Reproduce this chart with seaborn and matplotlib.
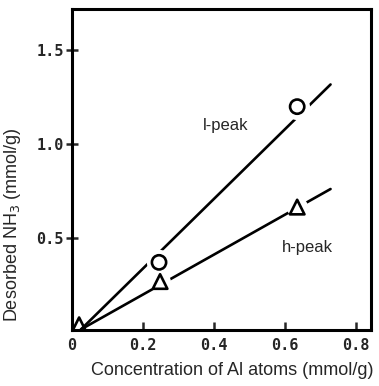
import matplotlib
matplotlib.use("Agg")
import matplotlib.pyplot as plt
import seaborn as sns
import pandas as pd

# Measured points: Al concentration (mmol/g) vs desorbed NH3 (mmol/g)
al_conc_l = [0.245, 0.634]
nh3_l_peak = [0.372, 1.200]
al_conc_h = [0.02, 0.248, 0.634]
nh3_h_peak = [0.04, 0.270, 0.666]

# Straight-line fits drawn through each peak series (endpoints)
fit_x_l = [0.025, 0.728]
fit_y_l = [0.015, 1.318]
fit_x_h = [0.025, 0.728]
fit_y_h = [0.015, 0.762]

x_ticks = [0, 0.2, 0.4, 0.6, 0.8]
x_tick_labels = ["0", "0.2", "0.4", "0.6", "0.8"]
y_ticks = [0.5, 1.0, 1.5]
y_tick_labels = ["0.5", "1.0", "1.5"]

sns.set_style("ticks")
plt.rcParams["font.family"] = ["Liberation Sans", "DejaVu Sans"]

fig = plt.figure(figsize=(3.79, 3.86), dpi=100)
ax = fig.add_axes([0.19, 0.145, 0.789, 0.832])

lines = pd.concat([
    pd.DataFrame({"x": fit_x_l, "y": fit_y_l, "peak": "l"}),
    pd.DataFrame({"x": fit_x_h, "y": fit_y_h, "peak": "h"}),
])
sns.lineplot(data=lines, x="x", y="y", units="peak", estimator=None,
             color="black", linewidth=1.9, ax=ax, zorder=2, legend=False)

# white discs leave a small gap in the fit lines around each marker
sns.scatterplot(x=al_conc_l, y=nh3_l_peak, s=330, color="white",
                linewidth=0, ax=ax, zorder=3)
sns.scatterplot(x=al_conc_h[1:], y=nh3_h_peak[1:], s=230, color="white",
                linewidth=0, ax=ax, zorder=3)

sns.scatterplot(x=al_conc_l, y=nh3_l_peak, s=105, marker="o",
                facecolor="none", edgecolor="black", linewidth=1.9,
                ax=ax, zorder=4)
sns.scatterplot(x=al_conc_h, y=nh3_h_peak, s=110, marker="^",
                facecolor="none", edgecolor="black", linewidth=1.9,
                ax=ax, zorder=4)

ax.text(0.369, 1.10, "l-peak", fontsize=12, va="center", ha="left")
ax.text(0.59, 0.45, "h-peak", fontsize=12, va="center", ha="left")

ax.set_xlim(0, 0.842)
ax.set_ylim(0.012, 1.72)
ax.set_xticks(x_ticks)
ax.set_xticklabels(x_tick_labels, family="DejaVu Sans Mono",
                   fontsize=11, fontweight="bold")
ax.set_yticks(y_ticks)
ax.set_yticklabels(y_tick_labels, family="DejaVu Sans Mono",
                   fontsize=11, fontweight="bold")
ax.tick_params(axis="x", direction="in", length=6, width=1.8, pad=6)
ax.tick_params(axis="y", direction="inout", length=8, width=1.8, pad=2)

for side in ["left", "right", "top", "bottom"]:
    ax.spines[side].set_visible(True)
    ax.spines[side].set_linewidth(2.2)
    ax.spines[side].set_color("black")

ax.set_xlabel("Concentration of Al atoms (mmol/g)", fontsize=13)
ax.set_ylabel("Desorbed NH$_3$ (mmol/g)", fontsize=13)
ax.xaxis.set_label_coords(0.535, -0.10)
ax.yaxis.set_label_coords(-0.165, 0.327)

fig.savefig("out.png", dpi=100, facecolor="white")
